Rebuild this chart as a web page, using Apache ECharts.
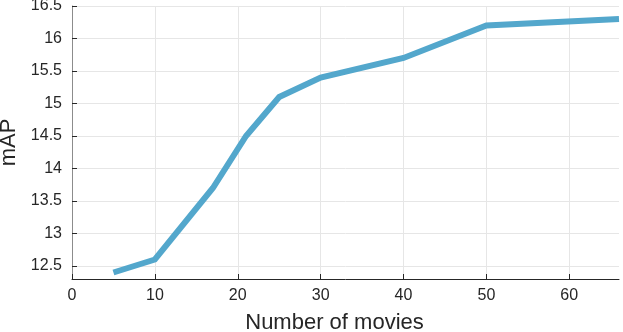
<!DOCTYPE html>
<html>
<head>
<meta charset="utf-8">
<script src="https://cdn.jsdelivr.net/npm/echarts@6/dist/echarts.min.js"></script>
<style>
  html, body { margin: 0; padding: 0; background: #fff; }
  #chart { width: 623px; height: 332px; }
</style>
</head>
<body>
<div id="chart"></div>
<script>
// number of movies vs mAP
const movies = [5, 10, 17, 21, 25, 30, 40, 50, 66]
const mapValues = [12.4, 12.6, 13.7, 14.5, 15.1, 15.4, 15.7, 16.2, 16.3]
const xTicks = [0, 10, 20, 30, 40, 50, 60]
const yTicks = [12.5, 13, 13.5, 14, 14.5, 15, 15.5, 16, 16.5]

const myChart = echarts.init(document.getElementById('chart'))
const fontName = 'Liberation Sans, Arial, sans-serif'
const labelFont = {
  fontFamily: fontName,
  fontSize: 16,
  color: '#262626'
}

myChart.setOption({
  animation: false,
  grid: {
    left: 72,
    right: 4,
    top: 6,
    bottom: 53,
    containLabel: false,
    outerBoundsMode: 'none'
  },
  xAxis: {
    type: 'value',
    min: 0,
    max: 66,
    name: 'Number of movies',
    nameLocation: 'middle',
    nameGap: 33,
    nameTextStyle: {
      fontFamily: fontName,
      fontSize: 22,
      color: '#262626',
      padding: [0, 22, 0, 0]
    },
    axisLine: { lineStyle: { color: '#262626', width: 1 } },
    axisTick: { inside: true, length: 5, customValues: xTicks, lineStyle: { color: '#262626' } },
    axisLabel: Object.assign({ customValues: xTicks, margin: 9 }, labelFont),
    splitLine: { show: true, customValues: xTicks, lineStyle: { color: '#e6e6e6', width: 1 } }
  },
  yAxis: {
    type: 'value',
    min: 12.3,
    max: 16.5,
    name: 'mAP',
    nameLocation: 'middle',
    nameGap: 49,
    nameTextStyle: {
      fontFamily: fontName,
      fontSize: 22,
      color: '#262626'
    },
    axisLine: { show: true, lineStyle: { color: '#8c8c8c', width: 1 } },
    axisTick: { show: true, inside: true, length: 5, customValues: yTicks, lineStyle: { color: '#262626' } },
    axisLabel: Object.assign({ customValues: yTicks, margin: 10 }, labelFont),
    splitLine: { show: true, customValues: yTicks, lineStyle: { color: '#e6e6e6', width: 1 } }
  },
  series: [
    {
      type: 'line',
      data: movies.map((m, i) => [m, mapValues[i]]),
      showSymbol: false,
      lineStyle: { color: '#53a7cc', width: 6, join: 'miter' }
    }
  ]
})
</script>
</body>
</html>
